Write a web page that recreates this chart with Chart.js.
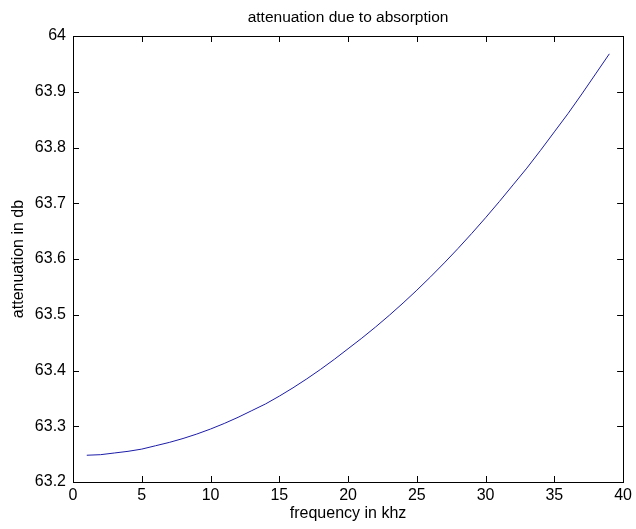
<!DOCTYPE html>
<html>
<head>
<meta charset="utf-8">
<title>attenuation due to absorption</title>
<script src="https://cdn.jsdelivr.net/npm/chart.js@4"></script>
<style>
  html, body { margin: 0; padding: 0; background: #fff; }
  #chart { display: block; }
</style>
</head>
<body>
<canvas id="chart" width="636" height="529"></canvas>
<script>
// ── Data ──────────────────────────────────
const freqKhz = [1, 2, 3, 4, 5, 6, 7, 8, 9, 10, 11, 12, 13, 14, 15, 16, 17, 18, 19, 20,
  21, 22, 23, 24, 25, 26, 27, 28, 29, 30, 31, 32, 33, 34, 35, 36, 37, 38, 39];
const attenDb = [63.248, 63.249, 63.252, 63.255, 63.259, 63.265, 63.271, 63.278, 63.286, 63.295,
  63.305, 63.316, 63.328, 63.340, 63.354, 63.369, 63.385, 63.402, 63.420, 63.439,
  63.458, 63.478, 63.499, 63.521, 63.544, 63.568, 63.593, 63.619, 63.646, 63.674,
  63.703, 63.733, 63.763, 63.795, 63.828, 63.861, 63.896, 63.932, 63.968];

const xTicks = [0, 5, 10, 15, 20, 25, 30, 35, 40];
const yTicks = [63.2, 63.3, 63.4, 63.5, 63.6, 63.7, 63.8, 63.9, 64];

const FONT = "'Liberation Sans', Arial, sans-serif";

// ── Matlab-style inward tick marks on all four sides ──
const inwardTicks = {
  id: 'inwardTicks',
  afterDraw(chart) {
    const { ctx, chartArea: a, scales: { x, y } } = chart;
    const len = 6;
    ctx.save();
    ctx.strokeStyle = '#000';
    ctx.lineWidth = 1;
    ctx.beginPath();
    x.ticks.forEach(t => {
      const px = Math.round(x.getPixelForValue(t.value)) + 0.5;
      ctx.moveTo(px, a.bottom); ctx.lineTo(px, a.bottom - len);
      ctx.moveTo(px, a.top); ctx.lineTo(px, a.top + len);
    });
    y.ticks.forEach(t => {
      const py = Math.round(y.getPixelForValue(t.value)) + 0.5;
      ctx.moveTo(a.left, py); ctx.lineTo(a.left + len, py);
      ctx.moveTo(a.right, py); ctx.lineTo(a.right - len, py);
    });
    ctx.stroke();
    ctx.restore();
  }
};

const fixedTicks = vals => scale => {
  scale.ticks = vals.map(v => ({ value: v }));
};

new Chart(document.getElementById('chart'), {
  type: 'line',
  data: {
    datasets: [{
      data: freqKhz.map((f, i) => ({ x: f, y: attenDb[i] })),
      borderColor: '#1c1ca8',
      borderWidth: 1,
      pointRadius: 0,
      tension: 0,
      fill: false,
    }],
  },
  options: {
    responsive: false,
    animation: false,
    devicePixelRatio: 1,
    layout: { padding: 0 },
    plugins: {
      legend: { display: false },
      tooltip: { enabled: false },
      title: { display: false },
    },
    scales: {
      x: {
        type: 'linear',
        position: 'bottom',
        min: 0, max: 40,
        afterBuildTicks: fixedTicks(xTicks),
        afterFit: s => { s.height = 47; },
        grid: { display: false, drawTicks: false },
        border: { display: true, color: '#000', width: 1 },
        ticks: {
          color: '#000',
          font: { family: FONT, size: 16 },
          padding: 4,
          maxRotation: 0,
          autoSkip: false,
          callback: v => String(v),
        },
        title: {
          display: true,
          text: 'frequency in khz',
          color: '#000',
          font: { family: FONT, size: 16, lineHeight: 1 },
          padding: { top: 0, bottom: 7.5 },
        },
      },
      x2: {
        type: 'linear',
        position: 'top',
        min: 0, max: 40,
        afterFit: s => { s.height = 36; },
        grid: { display: false, drawTicks: false },
        border: { display: true, color: '#000', width: 1 },
        ticks: { display: false },
        title: {
          display: true,
          text: 'attenuation due to absorption',
          color: '#000',
          font: { family: FONT, size: 15.5, lineHeight: 1 },
          padding: { top: 9.5, bottom: 0 },
        },
      },
      y: {
        type: 'linear',
        position: 'left',
        min: 63.2, max: 64,
        afterBuildTicks: fixedTicks(yTicks),
        afterFit: s => { s.width = 73; },
        grid: { display: false, drawTicks: false },
        border: { display: true, color: '#000', width: 1 },
        ticks: {
          color: '#000',
          font: { family: FONT, size: 16 },
          padding: 7,
          autoSkip: false,
          callback: v => String(+v.toFixed(1)),
        },
        title: {
          display: true,
          text: 'attenuation in db',
          color: '#000',
          font: { family: FONT, size: 16, lineHeight: 1 },
          padding: { top: 10.5, bottom: 0 },
        },
      },
      y2: {
        type: 'linear',
        position: 'right',
        min: 63.2, max: 64,
        afterFit: s => { s.width = 11; },
        grid: { display: false, drawTicks: false },
        border: { display: true, color: '#000', width: 1 },
        ticks: { display: false },
      },
    },
  },
  plugins: [inwardTicks],
});
</script>
</body>
</html>
